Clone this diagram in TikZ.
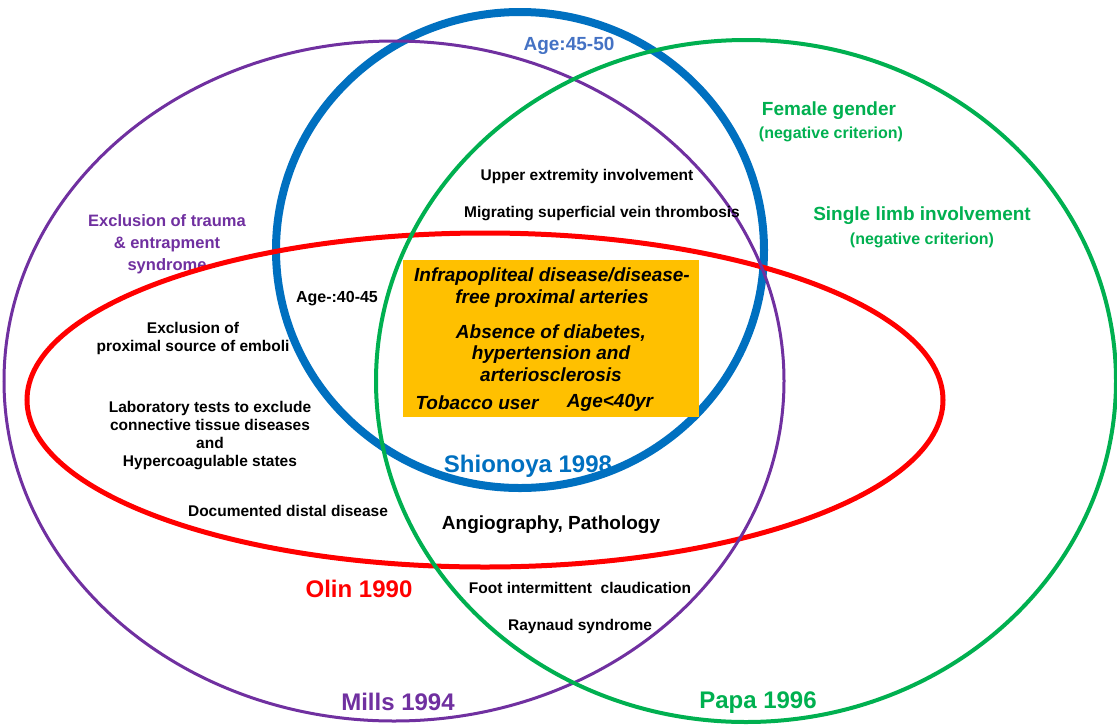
\documentclass[tikz,border=0pt]{standalone}
\usepackage{fontspec}
\setmainfont{Liberation Sans}

\definecolor{millspurple}{HTML}{7030A0}
\definecolor{papagreen}{HTML}{00B050}
\definecolor{shionoyablue}{HTML}{0070C0}
\definecolor{agesblue}{HTML}{4472C4}
\definecolor{olinred}{HTML}{FF0000}
\definecolor{coreorange}{HTML}{FFC000}

\tikzset{
  crit/.style={font=\fontsize{15.5}{18}\selectfont\bfseries, align=center, inner sep=0pt},
  negcrit/.style={font=\fontsize{16}{18}\selectfont\bfseries, text=papagreen, inner sep=0pt},
  greencrit/.style={font=\fontsize{19}{22}\selectfont\bfseries, text=papagreen, inner sep=0pt},
  core/.style={font=\fontsize{19}{21.5}\selectfont\bfseries\itshape, align=center, inner sep=0pt},
  study/.style={font=\fontsize{24}{28}\selectfont\bfseries, inner sep=0pt}
}

\begin{document}
\begin{tikzpicture}[x=1pt,y=-1pt]
   \useasboundingbox (0,0) rectangle (1117,724);
   \fill [white] (0,0) rectangle (1117,724);

   % purple text sits under the red line
   \node (trauma) [crit, text=millspurple, font=\fontsize{16.5}{22}\selectfont\bfseries]
     at (167,244) {Exclusion of trauma\\\& entrapment\\syndrome};

   % Draw the four criteria sets
   \draw [shionoyablue, line width=8pt] (520,250) ellipse [x radius=244, y radius=238];
   \draw [olinred, line width=5pt] (485,400) ellipse [x radius=458, y radius=167];
   \draw [millspurple, line width=3pt] (394,381) ellipse [x radius=390, y radius=340];
   \draw [papagreen, line width=4pt] (746,381) ellipse [x radius=370, y radius=341];

   % common core
   \fill [coreorange] (403,260) rectangle (699,417);
   \node (infra) [core] at (552,287.5) {Infrapopliteal disease/disease-\\free proximal arteries};
   \node (absence) [core] at (551,353) {Absence of diabetes,\\hypertension and\\arteriosclerosis};
   \node (tobacco) [core] at (477,403) {Tobacco user};
   \node (agelt) [core] at (610,403) {Age<40yr};

   % criteria
   \node (age4550) [study, text=agesblue, font=\fontsize{19}{22}\selectfont\bfseries] at (569,46) {Age:45-50};
   \node (female) [greencrit] at (829,111) {Female gender};
   \node (femaleneg) [negcrit] at (831,134) {(negative criterion)};
   \node (upper) [crit] at (587,176) {Upper extremity involvement};
   \node (migrating) [crit] at (602,214) {Migrating superficial vein thrombosis};
   \node (single) [greencrit] at (922,216) {Single limb involvement};
   \node (singleneg) [negcrit] at (922,240) {(negative criterion)};
   \node (age4045) [crit, font=\fontsize{16}{18}\selectfont\bfseries] at (337,299) {Age-:40-45};
   \node (emboli) [crit] at (193,338) {Exclusion of\\proximal source of emboli};
   \node (lab) [crit] at (210,436) {Laboratory tests to exclude\\connective tissue diseases\\and\\Hypercoagulable states};
   \node (distal) [crit] at (288,511) {Documented distal disease};
   \node (angio) [crit, font=\fontsize{19}{22}\selectfont\bfseries] at (551,525) {Angiography, Pathology};
   \node (foot) [crit] at (580,588) {Foot intermittent\ \ claudication};
   \node (raynaud) [crit] at (580,626) {Raynaud syndrome};

   % study names
   \node (shionoya) [study, text=shionoyablue] at (528,466) {Shionoya 1998};
   \node (olin) [study, text=olinred] at (359,589) {Olin 1990};
   \node (mills) [study, text=millspurple] at (398,702) {Mills 1994};
   \node (papa) [study, text=papagreen] at (758,703) {Papa 1996};
\end{tikzpicture}
\end{document}
